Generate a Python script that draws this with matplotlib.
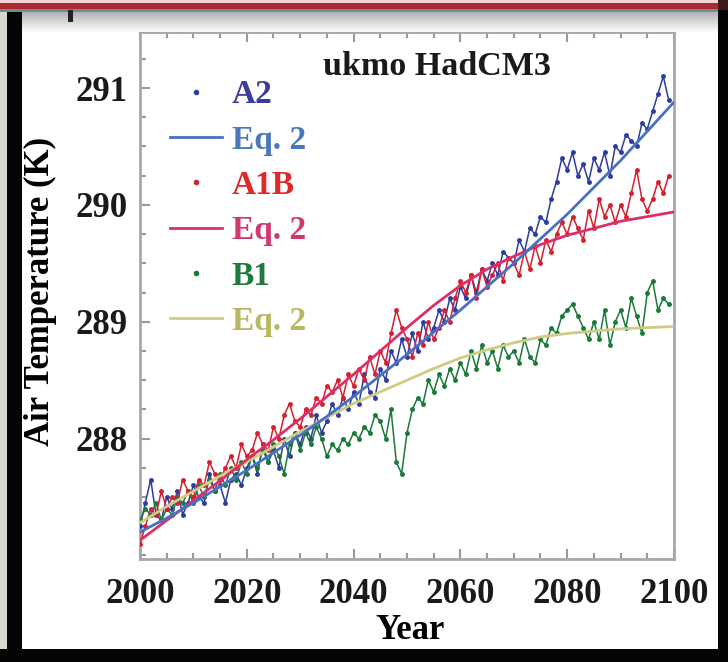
import matplotlib
matplotlib.use('Agg')
import matplotlib.pyplot as plt
from matplotlib.lines import Line2D
from matplotlib.patches import Rectangle
from matplotlib.ticker import MultipleLocator, FixedLocator

# Годы
years = list(range(2000, 2100))
fit_years = list(range(2000, 2101, 5))

# Сценарий A2 (данные модели)
a2 = [287.25, 287.45, 287.65, 287.35, 287.30, 287.50, 287.40, 287.55, 287.35, 287.45,
      287.60, 287.50, 287.45, 287.70, 287.55, 287.60, 287.45, 287.65, 287.70, 287.60,
      287.75, 287.85, 287.70, 287.95, 287.80, 287.90, 287.75, 288.00, 287.85, 288.05,
      287.95, 288.10, 288.00, 288.20, 288.05, 288.15, 288.30, 288.20, 288.35, 288.25,
      288.40, 288.30, 288.55, 288.40, 288.35, 288.60, 288.50, 288.75, 288.65, 288.85,
      288.70, 288.90, 288.75, 289.00, 288.85, 288.95, 289.10, 289.00, 289.20, 289.10,
      289.30, 289.20, 289.40, 289.25, 289.45, 289.35, 289.50, 289.40, 289.60, 289.55,
      289.50, 289.70, 289.60, 289.80, 289.75, 289.90, 289.85, 290.05, 290.20, 290.40,
      290.30, 290.45, 290.25, 290.35, 290.20, 290.40, 290.30, 290.45, 290.25, 290.50,
      290.45, 290.60, 290.55, 290.50, 290.70, 290.65, 290.80, 290.95, 291.10, 290.90]

# Сценарий A1B
a1b = [287.10, 287.25, 287.40, 287.35, 287.55, 287.40, 287.50, 287.45, 287.65, 287.55,
       287.50, 287.65, 287.60, 287.80, 287.70, 287.65, 287.75, 287.85, 287.75, 287.95,
       287.85, 287.90, 288.05, 287.95, 287.90, 288.10, 288.00, 288.20, 288.30, 288.15,
       288.10, 288.25, 288.20, 288.35, 288.30, 288.45, 288.40, 288.50, 288.35, 288.55,
       288.45, 288.60, 288.50, 288.70, 288.55, 288.75, 288.65, 288.90, 289.10, 288.95,
       288.85, 288.70, 288.90, 288.80, 289.00, 288.85, 288.95, 289.10, 289.00, 289.20,
       289.35, 289.25, 289.40, 289.20, 289.45, 289.30, 289.40, 289.50, 289.35, 289.55,
       289.50, 289.40, 289.60, 289.45, 289.65, 289.50, 289.70, 289.60, 289.75, 289.85,
       289.75, 289.90, 289.80, 289.70, 289.95, 289.80, 290.05, 289.90, 290.00, 289.85,
       290.00, 289.90, 290.10, 290.30, 290.05, 289.95, 290.05, 290.20, 290.10, 290.25]

# Сценарий B1
b1 = [287.30, 287.40, 287.35, 287.45, 287.30, 287.40, 287.35, 287.50, 287.45, 287.55,
      287.45, 287.60, 287.50, 287.65, 287.55, 287.70, 287.60, 287.75, 287.65, 287.80,
      287.70, 287.85, 287.75, 287.90, 287.80, 287.95, 287.85, 287.70, 287.95, 288.05,
      287.90, 288.05, 287.95, 288.10, 288.00, 287.85, 287.95, 287.90, 288.00, 287.95,
      288.05, 288.00, 288.10, 288.05, 288.20, 288.15, 288.00, 288.25, 287.80, 287.70,
      288.05, 288.25, 288.35, 288.30, 288.50, 288.40, 288.55, 288.45, 288.60, 288.50,
      288.65, 288.55, 288.75, 288.60, 288.80, 288.65, 288.75, 288.60, 288.80, 288.70,
      288.75, 288.65, 288.85, 288.70, 288.65, 288.85, 288.80, 288.95, 288.90, 289.05,
      289.10, 289.15, 289.05, 288.95, 288.85, 289.00, 288.85, 289.10, 288.80, 289.00,
      289.10, 288.95, 289.20, 289.05, 288.90, 289.25, 289.35, 289.10, 289.20, 289.15]

# Аппроксимация по уравнению 2
a2_fit = [287.20, 287.32, 287.45, 287.59, 287.73, 287.88, 288.03, 288.19, 288.36, 288.54, 288.72,
          288.91, 289.10, 289.30, 289.50, 289.71, 289.92, 290.15, 290.38, 290.63, 290.88]
a1b_fit = [287.13, 287.30, 287.47, 287.64, 287.82, 287.99, 288.17, 288.36, 288.55, 288.75, 288.95,
           289.14, 289.31, 289.45, 289.56, 289.66, 289.74, 289.80, 289.86, 289.90, 289.94]
b1_fit = [287.28, 287.42, 287.55, 287.68, 287.80, 287.93, 288.06, 288.18, 288.30, 288.40, 288.50,
          288.60, 288.69, 288.76, 288.82, 288.87, 288.90, 288.92, 288.94, 288.95, 288.96]

labels = ['A2', 'Eq. 2', 'A1B', 'Eq. 2', 'B1', 'Eq. 2']
label_colors = ['#3b3b9b', '#4a78b8', '#e02828', '#d03870', '#1f7a3f', '#b8b860']
y_ticks = [288, 289, 290, 291]

plt.rcParams['font.family'] = ['Liberation Serif', 'DejaVu Serif']
plt.rcParams['font.weight'] = 'bold'

fig = plt.figure(figsize=(7.28, 6.62), dpi=100)
ax = fig.add_axes([0.1923, 0.1556, 0.7335, 0.7961])

# Данные и кривые
ax.plot(years, a2, color='#2e3c9e', lw=1.1, marker='o', ms=2.5, zorder=3)
ax.plot(years, b1, color='#1a7a3a', lw=1.1, marker='o', ms=2.5, zorder=3)
ax.plot(years, a1b, color='#d42030', lw=1.1, marker='o', ms=2.5, zorder=3)
ax.plot(fit_years, b1_fit, color='#cfcb85', lw=2, zorder=4)
ax.plot(fit_years, a1b_fit, color='#dc2f68', lw=2, zorder=4)
ax.plot(fit_years, a2_fit, color='#4a70c4', lw=2, zorder=4)

ax.set_xlim(2000, 2100)
ax.set_ylim(286.97, 291.48)
ax.xaxis.set_major_locator(MultipleLocator(20))
ax.xaxis.set_minor_locator(MultipleLocator(5))
ax.yaxis.set_major_locator(FixedLocator(y_ticks))
ax.yaxis.set_minor_locator(MultipleLocator(0.25))
ax.tick_params(which='both', direction='in', top=True, right=False, color='#999999', width=1.5)
ax.tick_params(which='major', length=7, labelsize=25, labelcolor='#1a1a1a')
ax.tick_params(which='minor', length=4)
ax.tick_params(axis='x', pad=14)
ax.tick_params(axis='y', pad=9)
for s in ax.spines.values():
    s.set_color('#a8a8a8')
    s.set_linewidth(2)

# Заголовок внутри графика
ax.text(0.556, 0.935, 'ukmo HadCM3', transform=ax.transAxes, ha='center', va='center',
        fontsize=24.5, fontweight='bold', color='#1a1a1a')

# Легенда
handles = [Line2D([], [], color='#2e3c9e', marker='o', ms=3, ls=''),
           Line2D([], [], color='#4a70c4', lw=2),
           Line2D([], [], color='#d42030', marker='o', ms=3, ls=''),
           Line2D([], [], color='#dc2f68', lw=2),
           Line2D([], [], color='#1a7a3a', marker='o', ms=3, ls=''),
           Line2D([], [], color='#cfcb85', lw=2)]
ax.legend(handles, labels, loc='upper left', bbox_to_anchor=(0.056, 0.91), frameon=False,
          fontsize=24, handlelength=1.55, handletextpad=0.3, labelspacing=0.43,
          borderpad=0, borderaxespad=0, labelcolor=label_colors)

# Подписи осей
fig.text(0.563, 0.047, 'Year', ha='center', va='center', fontsize=25, fontweight='bold')
fig.text(0.055, 0.56, 'Air Temperature (K)', ha='center', va='center', rotation=90,
         fontsize=25, fontweight='bold')

# Рамка скриншота
W, H = 728, 662
def box(x, y, w, h, c, z=5):
    # прямоугольник в пикселях от верхнего левого угла
    fig.add_artist(Rectangle((x / W, 1 - (y + h) / H), w / W, h / H,
                             transform=fig.transFigure, color=c, lw=0, zorder=z))

box(0, 0, 7, H, '#d8d8d0')
box(7, 10, 15, H - 10, '#050505')
box(718, 10, 10, H - 10, '#050505')
box(0, H - 13, W, 13, '#050505')
grays = ['#b4b4b4', '#bcbcbc', '#c4c4c4', '#cccccc', '#d4d4d4', '#dcdcdc',
         '#e4e4e4', '#ececec', '#f2f2f2', '#f8f8f8']
for i, g in enumerate(grays):
    box(22, 12 + 2 * i, 696, 2, g, 4)
box(0, 0, 718, 3, '#f4d4d4')
box(0, 3, 718, 6, '#a82a32')
box(0, 9, 718, 3, '#6e908a')
box(718, 0, 10, 10, '#3a1a1a')
box(68, 10, 5, 12, '#202020')

fig.savefig('out.png', dpi=100)
